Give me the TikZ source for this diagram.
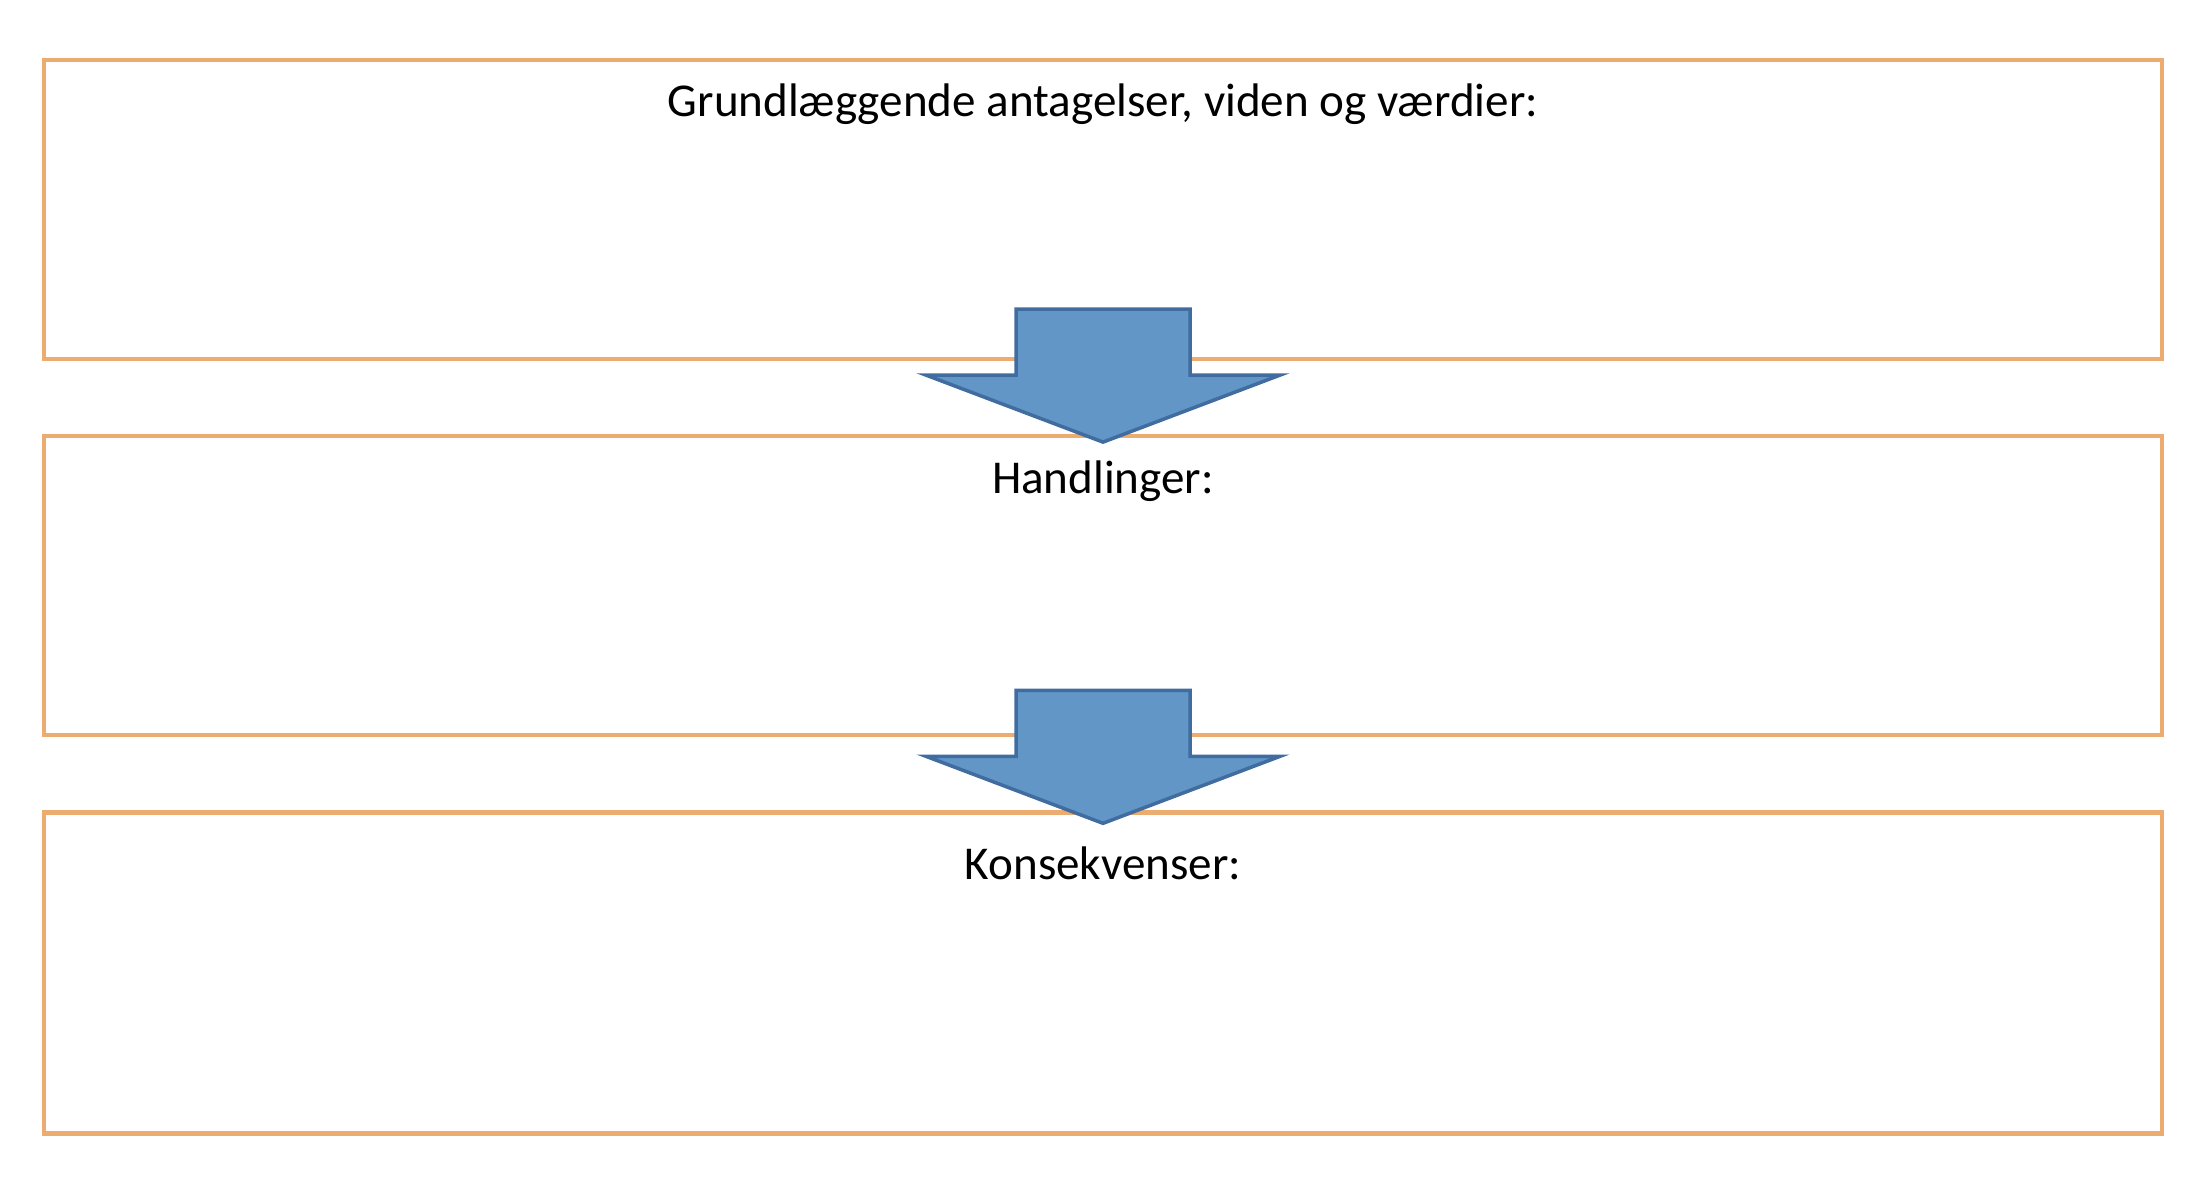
\documentclass[tikz,border=0pt]{standalone}
\usepackage{fontspec}
\setmainfont{Carlito}
\usepackage{tikz}
\usetikzlibrary{positioning, calc}

\definecolor{kantorange}{RGB}{236,172,112}
\definecolor{pilblaa}{RGB}{97,150,199}
\definecolor{pilkant}{RGB}{64,108,160}

\begin{document}
\begin{tikzpicture}[
	every node/.style={font=\fontsize{13.4}{16}\selectfont, node distance=0.73cm},
	felt/.style={rectangle, draw=kantorange, line width=1.2pt, minimum width=21.18cm, inner sep=0pt},
	overskrift/.style={anchor=base, text=black},
	pil/.style={draw=pilkant, fill=pilblaa, line width=1pt, line join=miter}
	]
	\useasboundingbox (0,0) rectangle (21.91,11.83);
	
	% Felter
	\node[felt, minimum height=2.99cm] (grundlag) at (11.03,9.735) {};
	\node[felt, minimum height=2.99cm, below=of grundlag] (handling) {};
	\node[felt, minimum height=3.21cm, below=of handling] (konsekvens) {};
	
	% Overskrifter
	\node[overskrift] (t1) at ([yshift=-0.59cm]grundlag.north) {Grundlæggende antagelser, viden og værdier:};
	\node[overskrift] (t2) at ([yshift=-0.59cm]handling.north) {Handlinger:};
	\node[overskrift] (t3) at ([yshift=-0.69cm]konsekvens.north) {Konsekvenser:};
	
	% Pile
	\foreach \fra/\op in {grundlag/0.52, handling/0.47}
		\draw[pil] ([yshift=\op cm]\fra.south) ++(-0.87,0) -- ++(0,-0.66) -- ++(-0.90,0)
			-- ++(1.77,-0.67) -- ++(1.77,0.67) -- ++(-0.90,0) -- ++(0,0.66) -- cycle;
\end{tikzpicture}
\end{document}
